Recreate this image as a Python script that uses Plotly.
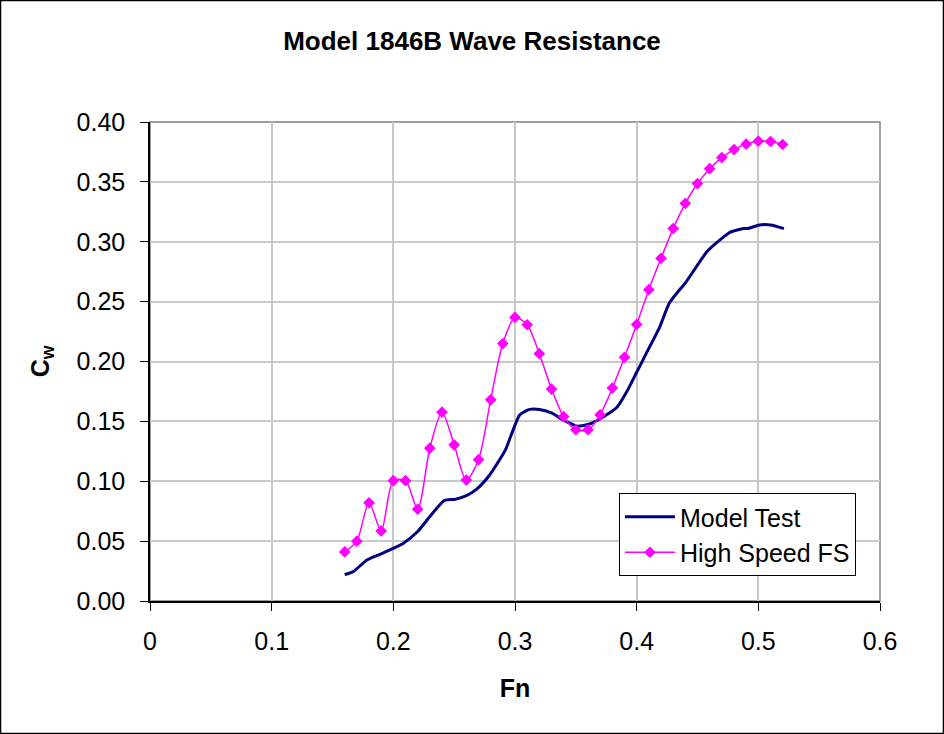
import plotly.graph_objects as go

# Model Test (measured) curve
model_fn = [0.160, 0.167, 0.178, 0.189, 0.200, 0.208, 0.220, 0.230, 0.242, 0.251,
            0.260, 0.268, 0.279, 0.292, 0.297, 0.304, 0.312, 0.320, 0.330, 0.340,
            0.351, 0.362, 0.373, 0.384, 0.392, 0.400, 0.408, 0.419, 0.427, 0.441,
            0.458, 0.469, 0.477, 0.488, 0.491, 0.501, 0.510, 0.521]
model_cw = [0.022, 0.0245, 0.034, 0.039, 0.044, 0.048, 0.058, 0.0705, 0.084, 0.085,
            0.088, 0.093, 0.105, 0.126, 0.139, 0.1555, 0.160, 0.160, 0.157, 0.151,
            0.146, 0.148, 0.154, 0.162, 0.175, 0.191, 0.207, 0.229, 0.249, 0.267,
            0.292, 0.302, 0.308, 0.311, 0.311, 0.314, 0.314, 0.311]

# High Speed FS computed curve
fs_fn = [0.16, 0.17, 0.18, 0.19, 0.20, 0.21, 0.22, 0.23, 0.24, 0.25,
         0.26, 0.27, 0.28, 0.29, 0.30, 0.31, 0.32, 0.33, 0.34, 0.35,
         0.36, 0.37, 0.38, 0.39, 0.40, 0.41, 0.42, 0.43, 0.44, 0.45,
         0.46, 0.47, 0.48, 0.49, 0.50, 0.51, 0.52]
fs_cw = [0.041, 0.050, 0.082, 0.0585, 0.1005, 0.1005, 0.0767, 0.1276, 0.1577, 0.1304,
         0.101, 0.118, 0.168, 0.215, 0.2368, 0.2307, 0.2065, 0.177, 0.154, 0.143,
         0.143, 0.1555, 0.1778, 0.2035, 0.231, 0.260, 0.2862, 0.311, 0.332, 0.3486,
         0.361, 0.3703, 0.377, 0.3815, 0.384, 0.3837, 0.3812]

x_ticks = [0, 0.1, 0.2, 0.3, 0.4, 0.5, 0.6]
x_tick_labels = ["0", "0.1", "0.2", "0.3", "0.4", "0.5", "0.6"]
y_ticks = [0.00, 0.05, 0.10, 0.15, 0.20, 0.25, 0.30, 0.35, 0.40]
y_tick_labels = ["0.00", "0.05", "0.10", "0.15", "0.20", "0.25", "0.30", "0.35", "0.40"]

FONT = "Liberation Sans, Arial, sans-serif"
FS = 25

fig = go.Figure()
fig.add_trace(go.Scatter(
    x=model_fn, y=model_cw, mode="lines", name="Model Test", legendgroup="a",
    line=dict(color="#000080", width=3, shape="spline", smoothing=0.6),
))
fig.add_trace(go.Scatter(
    x=fs_fn, y=fs_cw, mode="lines+markers", name="High Speed FS", legendgroup="b",
    line=dict(color="#ff00ff", width=1.5, shape="spline", smoothing=0.8),
    marker=dict(symbol="diamond", size=9, color="#ff00ff"),
))

W, H = 944, 734
L, R, T, B = 150, 64, 122, 133
pw, ph = W - L - R, H - T - B

fig.update_layout(
    width=W, height=H,
    margin=dict(l=L, r=R, t=T, b=B, autoexpand=False),
    paper_bgcolor="white", plot_bgcolor="white",
    font=dict(family=FONT, size=FS, color="black"),
    title=dict(text="<b>Model 1846B Wave Resistance</b>", x=0.5, xanchor="center",
               y=1 - 41 / H, yanchor="middle", font=dict(size=26, family=FONT)),
    showlegend=True,
    legend=dict(x=(619 - L) / pw, y=(H - B - 493) / ph, xanchor="left", yanchor="top",
                bgcolor="white", bordercolor="black", borderwidth=1,
                font=dict(size=FS, family=FONT), traceorder="grouped", tracegroupgap=0,
                itemwidth=50),
    shapes=[
        dict(type="rect", xref="paper", yref="paper", x0=0, x1=1, y0=0, y1=1,
             line=dict(color="#808080", width=1.5), layer="below"),
        dict(type="rect", xref="paper", yref="paper",
             x0=(0.5 - L) / pw, x1=(W - 0.5 - L) / pw,
             y0=-(B - 0.5) / ph, y1=1 + (T - 0.5) / ph,
             line=dict(color="black", width=1.5)),
    ],
)
fig.update_xaxes(
    range=[0, 0.6], tickvals=x_ticks, ticktext=x_tick_labels,
    showgrid=True, gridcolor="#c8c8c8", gridwidth=1.5,
    showline=True, linecolor="black", linewidth=1.5,
    ticks="outside", ticklen=8, tickcolor="black", tickwidth=1,
    zeroline=False, tickfont=dict(size=FS), ticklabelstandoff=9,
    title=dict(text="<b>Fn</b>", font=dict(size=FS), standoff=26),
)
fig.update_yaxes(
    range=[0, 0.4], tickvals=y_ticks, ticktext=y_tick_labels,
    showgrid=True, gridcolor="#c8c8c8", gridwidth=1.5,
    showline=True, linecolor="black", linewidth=1.5,
    ticks="outside", ticklen=8, tickcolor="black", tickwidth=1,
    zeroline=False, tickfont=dict(size=FS), ticklabelstandoff=10,
    title=dict(text="<b>C<sub>w</sub></b>", font=dict(size=FS), standoff=20),
)

fig.write_html("out.html", config={"displayModeBar": False},
               post_script="document.body.style.margin='0';")
